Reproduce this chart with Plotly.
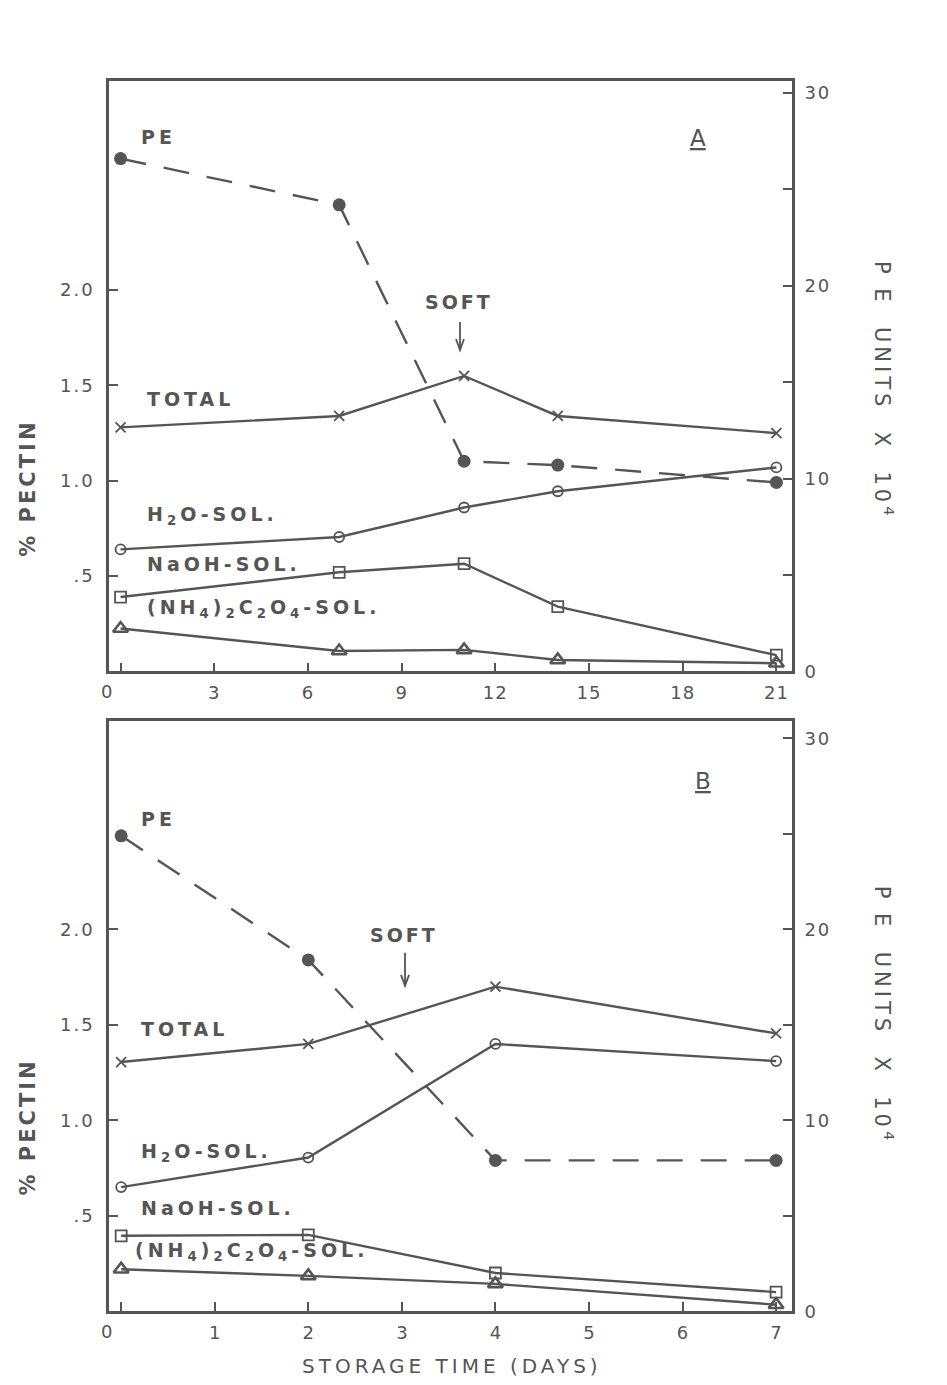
import plotly.graph_objects as go

# ---------------- data ----------------
days_a = [0, 7, 11, 14, 21]
pe_a = [26.6, 24.2, 10.9, 10.7, 9.8]
total_a = [1.28, 1.34, 1.55, 1.34, 1.25]
h2o_a = [0.64, 0.705, 0.86, 0.945, 1.07]
naoh_a = [0.39, 0.52, 0.565, 0.34, 0.085]
oxal_a = [0.225, 0.107, 0.113, 0.06, 0.043]

days_b = [0, 2, 4, 7]
pe_b = [24.9, 18.4, 7.9, 7.9]
total_b = [1.305, 1.40, 1.70, 1.455]
h2o_b = [0.65, 0.805, 1.40, 1.31]
naoh_b = [0.395, 0.40, 0.20, 0.10]
oxal_b = [0.22, 0.185, 0.143, 0.034]

xticks_a = [3, 6, 9, 12, 15, 18, 21]
xticks_b = [1, 2, 3, 4, 5, 6, 7]
left_ticks = [0.5, 1.0, 1.5, 2.0]
left_labels = [".5", "1.0", "1.5", "2.0"]
right_ticks = [0, 10, 20, 30]
right_minor = [5, 15, 25]

PAGE_W, PAGE_H = 947, 1385
OFF = 8  # default body margin of the html page
W, H = PAGE_W - 2 * OFF, PAGE_H - OFF
INK = "#555555"
FONT = "DejaVu Sans"


def px(x):
    return (x - OFF) / W


def py(y):
    y = (y + 2.6) / 0.9946
    return 1 - (y - OFF) / H


def spaced(s, sp=2):
    return f'<span style="letter-spacing:{sp}px">{s}</span>'


fig = go.Figure()

line = dict(color=INK, width=2.4)


def add_panel(days, pe, total, h2o, naoh, oxal, xa, yl, yr):
    fig.add_trace(go.Scatter(x=days, y=total, xaxis=xa, yaxis=yl, mode="lines+markers",
                             line=line, marker=dict(symbol="x-thin-open", size=10,
                                                    line=dict(color=INK, width=1.8)),
                             name="TOTAL", showlegend=False))
    fig.add_trace(go.Scatter(x=days, y=h2o, xaxis=xa, yaxis=yl, mode="lines+markers",
                             line=line, marker=dict(symbol="circle-open", size=10, color=INK,
                                                    line=dict(color=INK, width=1.8)),
                             name="H2O-SOL.", showlegend=False))
    fig.add_trace(go.Scatter(x=days, y=naoh, xaxis=xa, yaxis=yl, mode="lines+markers",
                             line=line, marker=dict(symbol="square-open", size=11, color=INK,
                                                    line=dict(color=INK, width=1.8)),
                             name="NaOH-SOL.", showlegend=False))
    fig.add_trace(go.Scatter(x=days, y=oxal, xaxis=xa, yaxis=yl, mode="lines+markers",
                             line=line, marker=dict(symbol="triangle-up-open", size=13, color=INK,
                                                    line=dict(color=INK, width=2.6)),
                             name="(NH4)2C2O4-SOL.", showlegend=False))
    fig.add_trace(go.Scatter(x=days, y=pe, xaxis=xa, yaxis=yr, mode="lines+markers",
                             line=dict(color=INK, width=2.4, dash="26px,18px"),
                             marker=dict(symbol="circle", size=13, color=INK),
                             name="PE", showlegend=False))


add_panel(days_a, pe_a, total_a, h2o_a, naoh_a, oxal_a, "x", "y", "y2")
add_panel(days_b, pe_b, total_b, h2o_b, naoh_b, oxal_b, "x2", "y3", "y4")

xdom = [px(109), px(792)]
dom_a = [py(670), py(78)]
dom_b = [py(1311), py(720)]

tickfont = dict(family=FONT, size=18, color=INK)
axis_common = dict(showline=True, linecolor=INK, linewidth=2.6, ticks="inside",
                   ticklen=9, tickwidth=2, tickcolor=INK, showgrid=False, zeroline=False,
                   tickfont=tickfont)
minor_common = dict(ticks="inside", ticklen=9, tickwidth=2, tickcolor=INK, showgrid=False)

fig.update_layout(
    width=W, height=H, margin=dict(l=0, r=0, t=0, b=0),
    paper_bgcolor="white", plot_bgcolor="white",
    xaxis=dict(domain=xdom, range=[-0.37, 21.5], anchor="y", mirror=True,
               tickvals=xticks_a, ticktext=[spaced(str(v), 1) for v in xticks_a],
               ticklabelstandoff=3,
               minor=dict(tickvals=[0], **minor_common), **axis_common),
    yaxis=dict(domain=dom_a, range=[0, 3.1], anchor="x", ticklabelstandoff=8,
               tickvals=left_ticks, ticktext=[spaced(t, 2) for t in left_labels], **axis_common),
    yaxis2=dict(domain=dom_a, range=[0, 30.65], anchor="x", overlaying="y", side="right",
                ticklabelstandoff=6,
                tickvals=right_ticks, ticktext=[spaced(str(v), 2) for v in right_ticks],
                minor=dict(tickvals=right_minor, **minor_common), **axis_common),
    xaxis2=dict(domain=xdom, range=[-0.13, 7.17], anchor="y3", mirror=True,
                tickvals=xticks_b, ticktext=[str(v) for v in xticks_b],
                ticklabelstandoff=3,
                minor=dict(tickvals=[0], **minor_common), **axis_common),
    yaxis3=dict(domain=dom_b, range=[0, 3.09], anchor="x2", ticklabelstandoff=8,
                tickvals=left_ticks, ticktext=[spaced(t, 2) for t in left_labels], **axis_common),
    yaxis4=dict(domain=dom_b, range=[0, 30.9], anchor="x2", overlaying="y3", side="right",
                ticklabelstandoff=6,
                tickvals=right_ticks, ticktext=[spaced(str(v), 2) for v in right_ticks],
                minor=dict(tickvals=right_minor, **minor_common), **axis_common),
)


def txt(x, y, s, size=19, angle=0, xanchor="center", bold=True, sp=4):
    inner = spaced(s, sp)
    if bold:
        inner = "<b>" + inner + "</b>"
    fig.add_annotation(x=px(x), y=py(y), xref="paper", yref="paper", text=inner,
                       showarrow=False, textangle=angle, xanchor=xanchor, yanchor="middle",
                       font=dict(family=FONT, size=size, color=INK))


def arrow(x, y_tail, y_tip):
    fig.add_shape(type="line", xref="paper", yref="paper", x0=px(x), x1=px(x),
                  y0=py(y_tail), y1=py(y_tip - 2), line=dict(color=INK, width=1.8))
    fig.add_shape(type="path", xref="paper", yref="paper",
                  path=f"M {px(x - 4)} {py(y_tip - 11)} L {px(x)} {py(y_tip)} L {px(x + 4)} {py(y_tip - 11)}",
                  line=dict(color=INK, width=1.8))


# Panel A labels
txt(158, 135, "PE")
txt(698, 136, "<u>A</u>", size=23, bold=False, sp=0)
txt(459, 300, "SOFT", sp=3)
arrow(460, 320, 348)
txt(145, 397, "TOTAL", xanchor="left")
txt(145, 514, "H<sub>2</sub>O-SOL.", xanchor="left")
txt(145, 562, "NaOH-SOL.", xanchor="left")
txt(145, 607, "(NH<sub>4</sub>)<sub>2</sub>C<sub>2</sub>O<sub>4</sub>-SOL.", xanchor="left")
txt(106, 690, "0", size=18, bold=False, sp=0)

# Panel B labels
txt(158, 818, "PE")
txt(703, 780, "<u>B</u>", size=23, bold=False, sp=0)
txt(404, 934, "SOFT", sp=3)
arrow(405, 952, 985)
txt(139, 1028, "TOTAL", xanchor="left")
txt(139, 1152, "H<sub>2</sub>O-SOL.", xanchor="left")
txt(139, 1208, "NaOH-SOL.", xanchor="left")
txt(133, 1251, "(NH<sub>4</sub>)<sub>2</sub>C<sub>2</sub>O<sub>4</sub>-SOL.", xanchor="left")
txt(106, 1331, "0", size=18, bold=False, sp=0)

# Axis titles
for yc in (487, 1127):
    txt(28, yc, "% PECTIN", size=21, angle=-90, sp=3)
txt(884, 388, "P E  UNITS  X  10<sup>4</sup>", size=21, angle=90, bold=False, sp=4)
txt(884, 1014, "P E  UNITS  X  10<sup>4</sup>", size=21, angle=90, bold=False, sp=4)
txt(452, 1366, "STORAGE TIME (DAYS)", size=20, bold=False, sp=4)

fig.write_html("out.html")
